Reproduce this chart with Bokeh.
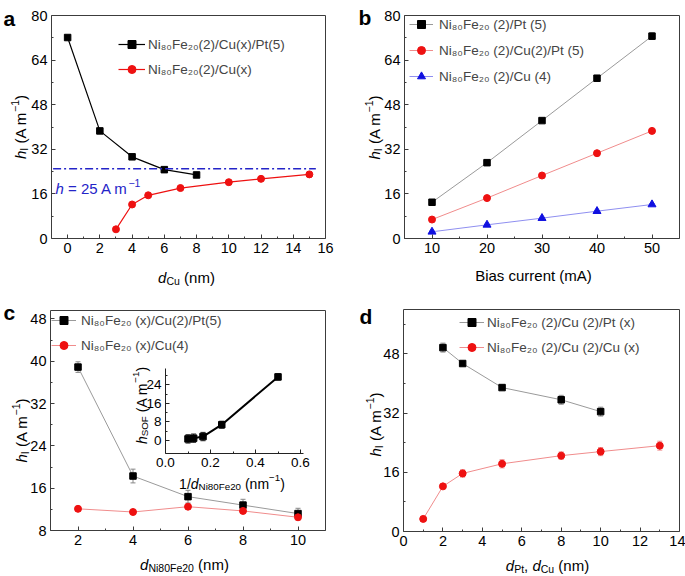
import math
from bokeh.plotting import figure
from bokeh.models import (Range1d, FixedTicker, Label, Legend, LegendItem, Whisker, TeeHead,
                          ColumnDataSource, LinearAxis, PrintfTickFormatter)
from bokeh.layouts import column, row
from bokeh.embed import file_html
from bokeh.resources import INLINE

# ---------------- data ----------------
# panel a
a_pt_x = [0, 2, 4, 6, 8]
a_pt_y = [72.1, 38.6, 29.3, 24.7, 22.8]
a_cu_x = [3, 4, 5, 7, 10, 12, 15]
a_cu_y = [3.3, 12.2, 15.5, 18.1, 20.2, 21.4, 23.0]
a_ref_x = [-0.9, 15.4]
a_ref_h = 25
a_labels = ["Ni₈₀Fe₂₀(2)/Cu(x)/Pt(5)", "Ni₈₀Fe₂₀(2)/Cu(x)"]
a_xticks = [0, 2, 4, 6, 8, 10, 12, 14, 16]
a_xminor = [1, 3, 5, 7, 9, 11, 13, 15]
a_yticks = [0, 16, 32, 48, 64, 80]
a_yminor = [8, 24, 40, 56, 72]

# panel b
b_x = [10, 20, 30, 40, 50]
b_pt_y = [13.0, 27.2, 42.3, 57.5, 72.6]
b_pt_e = [0.5, 0.5, 0.6, 1.0, 1.2]
b_cupt_y = [6.8, 14.5, 22.6, 30.6, 38.6]
b_cupt_e = [0.4, 0.4, 0.5, 0.5, 0.6]
b_cu_y = [2.4, 4.9, 7.3, 9.8, 12.2]
b_cu_e = [0.3, 0.3, 0.3, 0.3, 0.3]
b_labels = ["Ni₈₀Fe₂₀ (2)/Pt (5)", "Ni₈₀Fe₂₀ (2)/Cu(2)/Pt (5)", "Ni₈₀Fe₂₀ (2)/Cu (4)"]
b_xticks = [10, 20, 30, 40, 50]
b_xminor = [5, 15, 25, 35, 45, 55]

# panel c
c_x = [2, 4, 6, 8, 10]
c_pt_y = [38.9, 18.3, 14.4, 12.8, 11.2]
c_pt_e = [1.0, 1.3, 1.2, 1.1, 1.0]
c_cu_y = [12.1, 11.5, 12.5, 11.7, 10.5]
c_cu_e = [0.4, 0.4, 0.5, 0.4, 0.5]
c_labels = ["Ni₈₀Fe₂₀ (x)/Cu(2)/Pt(5)", "Ni₈₀Fe₂₀ (x)/Cu(4)"]
c_xticks = [2, 4, 6, 8, 10]
c_xminor = [1, 3, 5, 7, 9, 11]
c_yticks = [8, 16, 24, 32, 40, 48]
c_yminor = [12, 20, 28, 36, 44]
ins_x = [0.1, 0.125, 0.1667, 0.25, 0.5]
ins_y = [0.7, 1.0, 1.7, 6.8, 27.4]
ins_e = [1.8, 1.8, 1.8, 1.5, 1.3]
ins_xticks = [0.0, 0.2, 0.4, 0.6]
ins_xminor = [0.1, 0.3, 0.5]
ins_yticks = [0, 8, 16, 24]
ins_yminor = [4, 12, 20, 28]

# panel d
d_pt_x = [2, 3, 5, 8, 10]
d_pt_y = [49.7, 45.4, 38.9, 35.6, 32.4]
d_pt_e = [1.2, 0.6, 0.6, 1.2, 1.2]
d_cu_x = [1, 2, 3, 5, 8, 10, 13]
d_cu_y = [3.4, 12.2, 15.7, 18.3, 20.5, 21.6, 23.2]
d_cu_e = [0.6, 0.6, 1.0, 1.1, 1.0, 1.1, 1.2]
d_labels = ["Ni₈₀Fe₂₀ (2)/Cu (2)/Pt (x)", "Ni₈₀Fe₂₀ (2)/Cu (2)/Cu (x)"]
d_xticks = [0, 2, 4, 6, 8, 10, 12, 14]
d_xminor = [1, 3, 5, 7, 9, 11, 13]
d_yticks = [0, 16, 32, 48]
d_yminor = [8, 24, 40, 56]

# ---------------- style / geometry ----------------
FONT = "Liberation Sans"
AX = "#3c3c3c"
TICK_FS = "14.5px"
LAB_FS = 15
GREY_L = "#9a9a9a"
RED = "#ee1111"
RED_L = "#f08c8c"
BLUE = "#1010e0"
BLUE_L = "#8f8ff0"

# page geometry: figure origin/size and the axes box (page pixels), with data ranges of the box
G = {
    "a": dict(ox=0, oy=0, w=342, h=288, l=51, t=15, r=325, b=238, xr=(-1, 16), yr=(0, 80),
              letter=(3, 18)),
    "b": dict(ox=342, oy=0, w=343, h=288, l=404, t=15, r=679, b=238, xr=(5, 55), yr=(0, 80),
              letter=(358, 17)),
    "c": dict(ox=0, oy=288, w=342, h=288, l=50, t=310, r=325, b=530, xr=(1, 11), yr=(8, 49.6),
              letter=(3, 312)),
    "d": dict(ox=342, oy=288, w=343, h=288, l=403, t=309, r=679, b=531, xr=(0, 14), yr=(0, 60),
              letter=(359, 316)),
}

WID = {' ': 0.278, '(': 0.333, ')': 0.333, '/': 0.278, ',': 0.278, '.': 0.278, '−': 0.584,
       '-': 0.333, '=': 0.584, 'A': 0.667, 'B': 0.667, 'C': 0.722, 'F': 0.611, 'I': 0.278,
       'N': 0.722, 'O': 0.778, 'P': 0.667, 'S': 0.667, 'a': 0.556, 'b': 0.556, 'c': 0.5,
       'd': 0.556, 'e': 0.556, 'h': 0.556, 'i': 0.222, 'm': 0.833, 'n': 0.556, 'o': 0.556,
       'r': 0.333, 's': 0.5, 't': 0.278, 'u': 0.556, 'x': 0.5}


def tw(s, fs):
    return sum(WID.get(ch, 0.556) for ch in s) * fs


def to_data(g, px, py):
    x0, x1 = g["xr"]
    y0, y1 = g["yr"]
    x = x0 + (px - g["l"]) / (g["r"] - g["l"]) * (x1 - x0)
    y = y0 + (g["b"] - py) / (g["b"] - g["t"]) * (y1 - y0)
    return x, y


def rich(p, g, segs, px, py, fs, color="black", vertical=False, center=True):
    sizes = [fs * 0.7 if k in "bp" else fs for s, k in segs]
    total = sum(tw(s, z) for (s, k), z in zip(segs, sizes))
    d = -total / 2 if center else 0
    x, y = to_data(g, px, py)
    for (s, k), z in zip(segs, sizes):
        lead = len(s) - len(s.lstrip(" "))
        core = s.strip(" ")
        trail = len(s) - lead - len(core)
        d += lead * WID[" "] * z
        shift = -0.22 * fs if k == "b" else (0.4 * fs if k == "p" else 0)
        if vertical:
            xo, yo, ang = -shift, d, math.pi / 2
        else:
            xo, yo, ang = d, shift, 0
        p.add_layout(Label(x=x, y=y, x_offset=xo, y_offset=yo, text=core, angle=ang,
                           text_font=FONT, text_font_size=f"{z:.1f}px",
                           text_font_style="italic" if k == "i" else "normal",
                           text_color=color, text_align="left", text_baseline="alphabetic"))
        d += tw(core, z) + trail * WID[" "] * z


def style_axis(ax, ticks, minor, fs=TICK_FS, color=AX):
    ax.ticker = FixedTicker(ticks=ticks, minor_ticks=minor)
    ax.axis_line_color = color
    ax.axis_line_width = 1
    ax.major_tick_line_color = color
    ax.minor_tick_line_color = color
    ax.major_tick_in = 4
    ax.major_tick_out = 0
    ax.minor_tick_in = 2
    ax.minor_tick_out = 0
    ax.major_label_text_font = FONT
    ax.major_label_text_font_size = fs
    ax.major_label_text_color = "black"
    ax.major_label_standoff = 4


def make_fig(key, xt, xm, yt, ym):
    g = G[key]
    x0, x1 = g["xr"]
    y0, y1 = g["yr"]
    kx = (x1 - x0) / (g["r"] - g["l"])
    ky = (y1 - y0) / (g["b"] - g["t"])
    xr = Range1d(x0 - (g["l"] - g["ox"]) * kx, x1 + (g["ox"] + g["w"] - g["r"]) * kx)
    yr = Range1d(y0 - (g["oy"] + g["h"] - g["b"]) * ky, y1 + (g["t"] - g["oy"]) * ky)
    p = figure(width=g["w"], height=g["h"], x_range=xr, y_range=yr,
               x_axis_type=None, y_axis_type=None,
               output_backend="svg", toolbar_location=None, title=None,
               min_border_left=0, min_border_top=0, min_border_right=0, min_border_bottom=0,
               background_fill_color="white", border_fill_color="white")
    p.outline_line_color = None
    p.xgrid.visible = False
    p.ygrid.visible = False
    bx = LinearAxis(fixed_location=y0, bounds=(x0, x1))
    style_axis(bx, xt, xm)
    p.add_layout(bx, "below")
    ly = LinearAxis(fixed_location=x0, bounds=(y0, y1))
    style_axis(ly, yt, ym)
    p.add_layout(ly, "left")
    tx = LinearAxis(fixed_location=y1, bounds=(x0, x1))
    style_axis(tx, [], [])
    p.add_layout(tx, "above")
    ry = LinearAxis(fixed_location=x1, bounds=(y0, y1))
    style_axis(ry, [], [])
    p.add_layout(ry, "right")
    lx, lyy = to_data(g, *g["letter"])
    p.add_layout(Label(x=lx, y=lyy, text=key, text_font=FONT, text_font_size="21px",
                       text_font_style="bold", text_color="black", text_align="left",
                       text_baseline="alphabetic"))
    return p, g


def errbars(p, xs, ys, es, color, **rn):
    src = ColumnDataSource(dict(base=xs, lower=[y - e for y, e in zip(ys, es)],
                                upper=[y + e for y, e in zip(ys, es)]))
    p.add_layout(Whisker(source=src, base="base", lower="lower", upper="upper", line_color=color,
                         line_width=1,
                         upper_head=TeeHead(size=5, line_color=color, line_width=1),
                         lower_head=TeeHead(size=5, line_color=color, line_width=1), **rn))


def add_legend(p, g, items, left_px, top_px, gw, standoff, spacing):
    n = len(items)
    height = n * 20 + (n - 1) * spacing
    loc = (left_px - g["ox"], (g["oy"] + g["h"]) - (top_px + height))
    lg = Legend(items=[LegendItem(label=lab, renderers=rs) for lab, rs in items], location=loc,
                glyph_width=gw, glyph_height=20, label_standoff=standoff, spacing=spacing,
                padding=0, margin=0, border_line_color=None, background_fill_alpha=0,
                label_text_font=FONT, label_text_font_size="13.5px", label_height=16)
    p.add_layout(lg)


def y_label(p, g, segs, px, py, fs=LAB_FS):
    rich(p, g, segs, px, py, fs, vertical=True)


H_SEGS = [("h", "i"), ("I", "b"), (" (A m", "n"), ("−1", "p"), (")", "n")]

# ---------------- panel a ----------------
pa, ga = make_fig("a", a_xticks, a_xminor, a_yticks, a_yminor)
la1 = pa.line(a_pt_x, a_pt_y, line_color="black", line_width=1.2)
sa1 = pa.scatter(a_pt_x, a_pt_y, marker="square", size=6.5, color="black")
la2 = pa.line(a_cu_x, a_cu_y, line_color=RED, line_width=1.2)
sa2 = pa.scatter(a_cu_x, a_cu_y, marker="circle", size=7, color=RED)
pa.line(a_ref_x, [a_ref_h, a_ref_h], line_color="#2424c8", line_width=1.6, line_dash="8 3 2 3")
rich(pa, ga, [("h", "i"), (" = 25 A m", "n"), ("−1", "p")], 55, 188, 15, color="#2424c8", center=False)
add_legend(pa, ga, [(a_labels[0], [la1, sa1]), (a_labels[1], [la2, sa2])], 118, 34, 27, 3, 5)
y_label(pa, ga, H_SEGS, 20, 126.5)
rich(pa, ga, [("d", "i"), ("Cu", "b"), (" (nm)", "n")], 186, 277, LAB_FS)

# ---------------- panel b ----------------
pb, gb = make_fig("b", b_xticks, b_xminor, a_yticks, a_yminor)
errbars(pb, b_x, b_pt_y, b_pt_e, "#888888")
errbars(pb, b_x, b_cupt_y, b_cupt_e, RED_L)
errbars(pb, b_x, b_cu_y, b_cu_e, BLUE_L)
lb1 = pb.line(b_x, b_pt_y, line_color=GREY_L, line_width=1)
sb1 = pb.scatter(b_x, b_pt_y, marker="square", size=6.5, color="black")
lb2 = pb.line(b_x, b_cupt_y, line_color=RED_L, line_width=1)
sb2 = pb.scatter(b_x, b_cupt_y, marker="circle", size=7, color=RED)
lb3 = pb.line(b_x, b_cu_y, line_color=BLUE_L, line_width=1)
sb3 = pb.scatter(b_x, b_cu_y, marker="triangle", size=8, color=BLUE)
add_legend(pb, gb, [(b_labels[0], [lb1, sb1]), (b_labels[1], [lb2, sb2]), (b_labels[2], [lb3, sb3])],
           409, 14, 24, 6, 6)
y_label(pb, gb, H_SEGS, 374, 127)
rich(pb, gb, [("Bias current (mA)", "n")], 533, 275, LAB_FS)

# ---------------- panel c ----------------
pc, gc = make_fig("c", c_xticks, c_xminor, c_yticks, c_yminor)
errbars(pc, c_x, c_pt_y, c_pt_e, "#888888")
errbars(pc, c_x, c_cu_y, c_cu_e, RED_L)
lc1 = pc.line(c_x, c_pt_y, line_color=GREY_L, line_width=1)
sc1 = pc.scatter(c_x, c_pt_y, marker="square", size=6.5, color="black")
lc2 = pc.line(c_x, c_cu_y, line_color=RED_L, line_width=1)
sc2 = pc.scatter(c_x, c_cu_y, marker="circle", size=7, color=RED)
add_legend(pc, gc, [(c_labels[0], [lc1, sc1]), (c_labels[1], [lc2, sc2])], 51, 310, 25, 5, 5)
y_label(pc, gc, H_SEGS, 21, 430)
rich(pc, gc, [("d", "i"), ("Ni80Fe20", "b"), (" (nm)", "n")], 184, 564, LAB_FS)

# inset (own ranges mapped onto a sub-box of panel c)
INS_X0_PX, INS_X_PPU = 165.0, 225.0      # page px of x=0, px per unit
INS_Y0_PY, INS_Y_PPU = 440.0, 2.321      # page py of y=0, px per unit
INS_RIGHT_PX, INS_BOT_PY, INS_TOP_PY = 302.7, 453.3, 368.3
pc.extra_x_ranges = {"ix": Range1d((gc["ox"] - INS_X0_PX) / INS_X_PPU,
                                   (gc["ox"] + gc["w"] - INS_X0_PX) / INS_X_PPU)}
pc.extra_y_ranges = {"iy": Range1d((INS_Y0_PY - (gc["oy"] + gc["h"])) / INS_Y_PPU,
                                   (INS_Y0_PY - gc["oy"]) / INS_Y_PPU)}
ins_bottom = (INS_Y0_PY - INS_BOT_PY) / INS_Y_PPU
ins_top = (INS_Y0_PY - INS_TOP_PY) / INS_Y_PPU
ins_right = (INS_RIGHT_PX - INS_X0_PX) / INS_X_PPU
ax_ix = LinearAxis(x_range_name="ix", y_range_name="iy", fixed_location=ins_bottom,
                   bounds=(0, ins_right), formatter=PrintfTickFormatter(format="%.1f"))
style_axis(ax_ix, ins_xticks, ins_xminor, fs="13.5px", color="#222222")
pc.add_layout(ax_ix, "below")
ax_iy = LinearAxis(x_range_name="ix", y_range_name="iy", fixed_location=0,
                   bounds=(ins_bottom, ins_top))
style_axis(ax_iy, ins_yticks, ins_yminor, fs="13.5px", color="#222222")
pc.add_layout(ax_iy, "left")
errbars(pc, ins_x, ins_y, ins_e, "#222222", x_range_name="ix", y_range_name="iy")
pc.line(ins_x, ins_y, line_color="black", line_width=2, x_range_name="ix", y_range_name="iy")
pc.scatter(ins_x, ins_y, marker="square", size=6.5, color="black", x_range_name="ix", y_range_name="iy")
y_label(pc, gc, [("h", "i"), ("SOF", "b"), (" (A m", "n"), ("−1", "p"), (")", "n")], 141, 405, 14)
rich(pc, gc, [("1/", "n"), ("d", "i"), ("Ni80Fe20", "b"), (" (nm", "n"), ("−1", "p"), (")", "n")],
     231.5, 483, 14)

# ---------------- panel d ----------------
pd_, gd = make_fig("d", d_xticks, d_xminor, d_yticks, d_yminor)
errbars(pd_, d_pt_x, d_pt_y, d_pt_e, "#888888")
errbars(pd_, d_cu_x, d_cu_y, d_cu_e, RED_L)
ld1 = pd_.line(d_pt_x, d_pt_y, line_color=GREY_L, line_width=1)
sd1 = pd_.scatter(d_pt_x, d_pt_y, marker="square", size=6.5, color="black")
ld2 = pd_.line(d_cu_x, d_cu_y, line_color=RED_L, line_width=1)
sd2 = pd_.scatter(d_cu_x, d_cu_y, marker="circle", size=7, color=RED)
add_legend(pd_, gd, [(d_labels[0], [ld1, sd1]), (d_labels[1], [ld2, sd2])], 459, 312, 25, 3, 5)
y_label(pd_, gd, H_SEGS, 375, 424)
rich(pd_, gd, [("d", "i"), ("Pt", "b"), (", ", "n"), ("d", "i"), ("Cu", "b"), (" (nm)", "n")],
     547, 565, LAB_FS)

layout = column(row(pa, pb), row(pc, pd_))
open("out.html", "w").write(file_html(layout, INLINE))
